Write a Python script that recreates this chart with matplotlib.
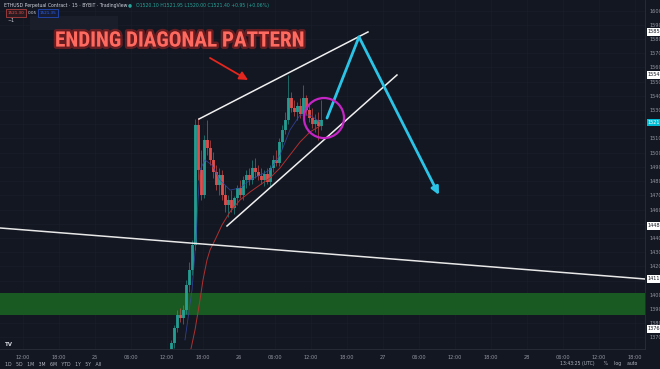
import numpy as np
import matplotlib
matplotlib.use("Agg")
import matplotlib.pyplot as plt
from matplotlib.patches import Ellipse, Rectangle
import matplotlib.patheffects as pe
from matplotlib import font_manager as fm

# ---------------- data ----------------
# bar times in hours since day 24 00:00 (30-min bars)
bar_hours = np.arange(36.75, 36.75 + 0.5 * 51, 0.5)
opens = [1354.1, 1366.0, 1376.6, 1385.7, 1383.6, 1389.3, 1406.9, 1417.4, 1435.0, 1519.5,
         1487.8, 1470.2, 1508.9, 1503.3, 1494.9, 1486.4, 1477.3, 1484.3, 1470.2, 1463.2,
         1466.7, 1461.1, 1468.1, 1475.1, 1470.2, 1480.8, 1484.3, 1480.8, 1489.2, 1486.4,
         1483.6, 1480.8, 1485.0, 1479.4, 1489.2, 1494.9, 1492.7, 1507.5, 1516.0, 1523.0,
         1538.5, 1531.5, 1528.7, 1532.9, 1527.2, 1538.5, 1530.1, 1524.4, 1520.2, 1523.0,
         1518.8]
highs = [1368.2, 1378.7, 1389.3, 1390.7, 1392.8, 1410.4, 1423.1, 1438.5, 1523.7, 1524.4,
         1501.9, 1512.5, 1523.0, 1508.9, 1500.5, 1491.3, 1489.2, 1487.8, 1477.3, 1470.2,
         1473.7, 1469.5, 1477.3, 1480.8, 1483.6, 1487.8, 1489.2, 1494.9, 1496.3, 1491.3,
         1489.2, 1487.8, 1489.2, 1491.3, 1498.4, 1501.9, 1510.3, 1519.5, 1528.7, 1554.7,
         1542.7, 1537.1, 1535.7, 1538.5, 1547.7, 1540.6, 1534.3, 1531.5, 1527.2, 1528.7,
         1537.1]
lows = [1350.5, 1362.5, 1373.8, 1380.8, 1379.4, 1386.4, 1401.9, 1413.9, 1431.5, 1480.8,
        1466.7, 1468.1, 1498.4, 1491.3, 1482.2, 1473.7, 1470.2, 1466.7, 1458.3, 1454.7,
        1458.3, 1456.8, 1463.2, 1468.1, 1466.7, 1475.1, 1477.3, 1478.0, 1482.2, 1480.8,
        1478.0, 1476.6, 1478.0, 1476.6, 1486.4, 1490.6, 1490.6, 1503.3, 1513.2, 1520.2,
        1528.7, 1525.8, 1523.0, 1524.4, 1525.8, 1526.5, 1521.6, 1517.4, 1514.6, 1508.9,
        1516.0]
closes = [1366.0, 1376.6, 1385.7, 1383.6, 1389.3, 1406.9, 1417.4, 1435.0, 1519.5, 1487.8,
          1470.2, 1508.9, 1503.3, 1494.9, 1486.4, 1477.3, 1484.3, 1470.2, 1463.2, 1466.7,
          1461.1, 1468.1, 1475.1, 1470.2, 1480.8, 1484.3, 1480.8, 1489.2, 1486.4, 1483.6,
          1480.8, 1485.0, 1479.4, 1489.2, 1494.9, 1492.7, 1507.5, 1516.0, 1523.0, 1538.5,
          1531.5, 1528.7, 1532.9, 1527.2, 1538.5, 1530.1, 1524.4, 1520.2, 1523.0, 1518.8,
          1523.0]

ma_slow_h = [38.5, 39.5, 40.67, 41.5, 42.0, 42.67, 43.17, 44.0, 45.17, 46.5, 48.17, 49.83,
             51.5, 53.17, 54.83, 56.5, 58.17, 59.83, 61.5]
ma_slow_p = [1340.0, 1352.0, 1375.2, 1396.3, 1410.4, 1424.5, 1431.5, 1438.5, 1449.1, 1458.3,
             1466.7, 1472.3, 1477.3, 1482.2, 1489.2, 1498.4, 1507.5, 1514.6, 1518.8]
ma_fast_h = [39.0, 40.17, 40.83, 41.17, 41.5, 42.33, 43.5, 44.83, 46.5, 48.17, 49.83,
             51.5, 53.17, 54.83, 56.5, 58.17, 59.83, 61.5]
ma_fast_p = [1368.2, 1403.3, 1438.5, 1466.7, 1487.8, 1494.9, 1491.3, 1480.8, 1473.7,
             1475.1, 1480.8, 1484.3, 1487.8, 1498.4, 1516.0, 1526.5, 1526.5, 1521.6]

# drawings
support_h = [8.17, 115.67]
support_p = [1447.0, 1411.1]
upper_h = [41.33, 69.5]
upper_p = [1523.7, 1585.0]
lower_h = [46.0, 74.33]
lower_p = [1448.4, 1554.7]
proj_h = [62.67, 68.0, 81.33]
proj_p = [1524.4, 1581.5, 1470.2]
zone_p = [1385.8, 1401.3]
circle_hp = [62.17, 1524.4]
arrow_h = [43.17, 49.5]
arrow_p = [1566.7, 1551.2]

price_ticks = [1600.0 - 10 * k for k in range(24)]
time_ticks = [12 + 6 * k for k in range(18)]
time_labels = ["12:00", "18:00", "25", "06:00", "12:00", "18:00", "26", "06:00", "12:00",
               "18:00", "27", "06:00", "12:00", "18:00", "28", "06:00", "12:00", "18:00"]
last_price = 1521.40

# ---------------- style ----------------
BG = "#131722"
GRID = "#1a1e2b"
TXT = "#9598a1"
UP = "#26a69a"
DN = "#ef5350"

W, H = 660, 369
fig = plt.figure(figsize=(W / 100, H / 100), dpi=100, facecolor=BG)
ax = fig.add_axes([0, 20 / H, 645 / W, 349 / H], facecolor=BG)
ax.set_xlim(8.17, 115.67)
ax.set_ylim(1361.8, 1607.5)
for s in ax.spines.values():
    s.set_visible(False)
for side in ("right", "bottom"):
    ax.spines[side].set_visible(True)
    ax.spines[side].set_color("#2a2e39")
    ax.spines[side].set_linewidth(0.6)

ax.yaxis.tick_right()
ax.set_yticks(price_ticks)
ax.set_yticklabels([f"{p:.1f}" for p in price_ticks])
ax.set_xticks(time_ticks)
ax.set_xticklabels(time_labels)
ax.tick_params(axis="both", length=0, labelsize=3.6, colors=TXT)
ax.tick_params(axis="y", pad=3)
ax.tick_params(axis="x", pad=4)
ax.grid(True, color=GRID, lw=0.5)
ax.set_axisbelow(True)

# zone
ax.axhspan(zone_p[0], zone_p[1], color="#1a5e24", alpha=0.95, lw=0, zorder=1)

# candles
for t, o, h, l, c in zip(bar_hours, opens, highs, lows, closes):
    col = UP if c >= o else DN
    ax.vlines(t, l, h, color=col, lw=0.5, alpha=0.8, zorder=3)
    ax.bar(t, max(abs(c - o), 0.4), bottom=min(o, c), width=0.36,
           color=col, alpha=0.85, lw=0, zorder=3)

# moving averages
ax.plot(ma_slow_h, ma_slow_p, color="#b03030", lw=0.7, zorder=4)
ax.plot(ma_fast_h, ma_fast_p, color="#3949ab", lw=0.6, alpha=0.8, zorder=4)

# support line and diagonals
ax.plot(support_h, support_p, color="#e8e8e8", lw=1.1, zorder=5)
ax.plot(upper_h, upper_p, color="#f0f0f0", lw=1.1, zorder=5)
ax.plot(lower_h, lower_p, color="#f0f0f0", lw=1.1, zorder=5)

# projection
CY = "#2cc4e6"
ax.plot(proj_h[:2], proj_p[:2], color=CY, lw=2.0, solid_capstyle="round", zorder=6)
ax.annotate("", xy=(proj_h[2], proj_p[2]), xytext=(proj_h[1], proj_p[1]),
            arrowprops=dict(arrowstyle="-|>,head_length=0.45,head_width=0.22", color=CY,
                            lw=2.0, shrinkA=0, shrinkB=0), zorder=6)

# circle
ax.add_patch(Ellipse((circle_hp[0], circle_hp[1]), width=6.67, height=28.2, fill=False,
                     ec="#c425c4", lw=1.6, zorder=7))

# red arrow
ax.annotate("", xy=(arrow_h[1], arrow_p[1]), xytext=(arrow_h[0], arrow_p[0]),
            arrowprops=dict(arrowstyle="-|>,head_length=0.5,head_width=0.25",
                            color="#e3261e", lw=1.3, shrinkA=0, shrinkB=0), zorder=7)

# title text (fit to target width)
title_fams = [f for f in ["Liberation Sans Narrow", "DejaVu Sans Condensed", "Roboto Condensed",
                          "Open Sans Condensed", "Noto Sans Condensed", "Roboto", "DejaVu Sans"]
              if any(e.name == f for e in fm.fontManager.ttflist)]
title = fig.text(180 / W, 1 - 41 / H, "ENDING DIAGONAL PATTERN", ha="center", va="center",
                 fontsize=20, color="#ff6a60", fontweight="bold", fontstretch="condensed",
                 family=title_fams[0] if title_fams else "DejaVu Sans",
                 path_effects=[pe.withStroke(linewidth=3.5, foreground="#ff2a20", alpha=0.35)])
fig.canvas.draw()
bw = title.get_window_extent().width
title.set_fontsize(20 * 250.0 / bw)

# price axis boxes
def pbox(price, text, fc, tc):
    ax.annotate(text, xy=(1.0, price), xycoords=("axes fraction", "data"),
                xytext=(2, 0), textcoords="offset points", fontsize=3.6, color=tc,
                va="center", ha="left",
                bbox=dict(boxstyle="square,pad=0.25", fc=fc, ec="none"),
                annotation_clip=False, zorder=10)

pbox(upper_p[1], f"{upper_p[1]:.1f}", "#ffffff", "#131722")
pbox(lower_p[1], f"{lower_p[1]:.1f}", "#ffffff", "#131722")
pbox(last_price, f"{last_price:.2f}", "#00bcd4", "#ffffff")
pbox(lower_p[0], f"{lower_p[0]:.1f}", "#ffffff", "#131722")
pbox(support_p[1], f"{support_p[1]:.1f}", "#ffffff", "#131722")
pbox(1376.0, "1376.0", "#ffffff", "#131722")

# header texts
fig.text(4 / W, 1 - 5 / H, "ETHUSD Perpetual Contract · 15 · BYBIT · TradingView",
         fontsize=3.3, color="#d1d4dc", va="center")
fig.text(128 / W, 1 - 5 / H, "●", fontsize=3.3, color=UP, va="center")
fig.text(136 / W, 1 - 5 / H, "O1520.10 H1521.95 L1520.00 C1521.40 +0.95 (+0.06%)",
         fontsize=3.3, color=UP, va="center")
fig.text(8 / W, 1 - 13 / H, "1521.30", fontsize=3.0, color="#ef5350", va="center",
         bbox=dict(boxstyle="square,pad=0.4", fc="#2a1a1f", ec="#ef5350", lw=0.4))
fig.text(28 / W, 1 - 13 / H, "0.05", fontsize=3.0, color="#d1d4dc", va="center")
fig.text(40 / W, 1 - 13 / H, "1521.35", fontsize=3.0, color="#2962ff", va="center",
         bbox=dict(boxstyle="square,pad=0.4", fc="#151c33", ec="#2962ff", lw=0.4))
fig.text(8 / W, 1 - 21 / H, "~1", fontsize=3.4, color="#d1d4dc", va="center")
fig.patches.append(Rectangle((30 / W, 1 - 30 / H), 88 / W, 14 / H, transform=fig.transFigure,
                             fc="#1a1e2b", ec="none", zorder=0))

# logo
fig.text(5 / W, 1 - 344 / H, "TV", fontsize=4, color="#d1d4dc", fontweight="bold", va="center")

# bottom bar
fig.text(5 / W, 1 - 364 / H, "1D   5D   1M   3M   6M   YTD   1Y   5Y   All",
         fontsize=3.3, color="#b2b5be", va="center")
fig.text(560 / W, 1 - 364 / H, "13:43:25 (UTC)      %    log    auto",
         fontsize=3.3, color="#b2b5be", va="center")

fig.savefig("out.png", dpi=100, facecolor=BG)
